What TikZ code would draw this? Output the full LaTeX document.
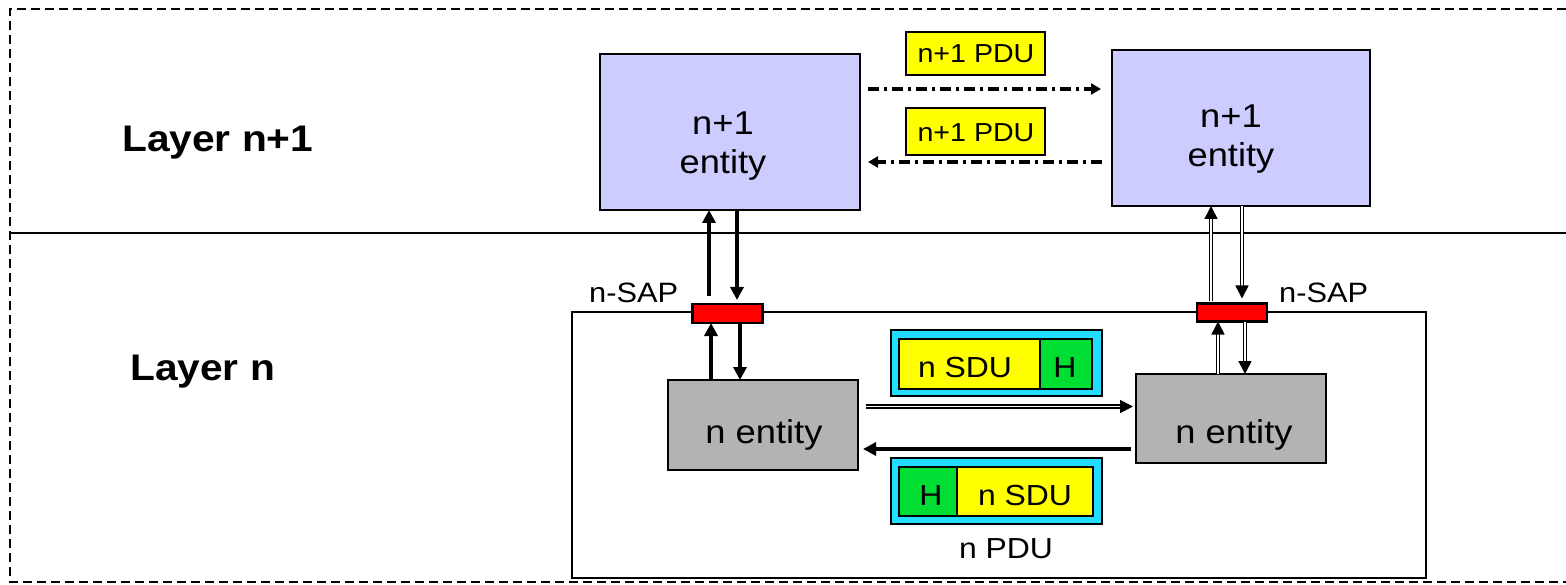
\documentclass[tikz,border=0pt]{standalone}
\usepackage{fontspec}
\setmainfont{Liberation Sans}[FakeStretch=1.1]
\usetikzlibrary{arrows.meta}

\definecolor{entblue}{HTML}{CCCCFF}
\definecolor{entgray}{HTML}{B3B3B3}
\definecolor{sapred}{HTML}{FF0000}
\definecolor{pduyellow}{HTML}{FFFF00}
\definecolor{hdrgreen}{HTML}{00DD33}
\definecolor{pducyan}{HTML}{22DDFF}

\newcommand{\fs}[1]{\fontsize{#1}{#1}\selectfont}

\tikzset{
  box/.style={draw, inner sep=0pt, outer sep=0pt},
  upperent/.style={box, line width=2.8pt, fill=entblue},
  lowerent/.style={box, line width=2.2pt, fill=entgray},
  sapbox/.style={box, line width=2.2pt, fill=sapred, minimum width=70pt, minimum height=19pt},
  tagbox/.style={box, line width=1.8pt, fill=pduyellow, minimum width=139pt},
  txt/.style={inner sep=0pt, anchor=base},
  tip/.style={-{Triangle[length=13pt,width=13pt]}},
  solidarrow/.style={tip, line width=3.6pt},
  dblarrow/.style={tip, line width=1.6pt, double, double distance=1.2pt},
  dashdot/.style={line width=3.8pt, dash pattern=on 11pt off 5pt on 3pt off 5pt,
                  -{Triangle[length=10pt,width=11pt]}},
}

\begin{document}
\begin{tikzpicture}[x=1pt, y=-1pt]
\useasboundingbox (0,0) rectangle (1566,585);

% outer dashed frame and layer separator
\draw[line width=2.2pt, dash pattern=on 9pt off 5pt] (1566,9) -- (10,9) -- (10,582) -- (1566,582);
\draw[line width=2.8pt] (10,233) -- (1566,233);

% layer labels
\node[txt, anchor=base west, font=\fs{37}\bfseries] (l1) at (122,152) {Layer n+1};
\node[txt, anchor=base west, font=\fs{37}\bfseries] (l0) at (130,380) {Layer n};

% layer n boundary
\node[box, line width=2.4pt, minimum width=854pt, minimum height=266pt] (lnbox) at (999,445) {};

% n+1 entities
\node[upperent, minimum width=260pt, minimum height=156pt] (uL) at (730,132) {};
\node[upperent, minimum width=258pt, minimum height=156pt] (uR) at (1241,128) {};
\node[txt, font=\fs{33}] (uLa) at (723,135) {n+1};
\node[txt, font=\fs{33}] (uLb) at (723,174) {entity};
\node[txt, font=\fs{33}] (uRa) at (1231,128) {n+1};
\node[txt, font=\fs{33}] (uRb) at (1231,167) {entity};

% n+1 PDU tags
\node[tagbox, minimum height=43pt] (tag1) at (975.5,53.5) {};
\node[txt, font=\fs{26}] (tag1t) at (976,63) {n+1 PDU};
\node[tagbox, minimum height=47pt] (tag2) at (975.5,131.5) {};
\node[txt, font=\fs{26}] (tag2t) at (976,142) {n+1 PDU};

% peer protocol between n+1 entities
\coordinate (ya) at (0,89);
\coordinate (yb) at (0,162);
\draw[dashdot, shorten <=8pt, shorten >=11pt] (uL.east |- ya) -- (uR.west |- ya);
\draw[dashdot, shorten <=10pt, shorten >=8pt] (uR.west |- yb) -- (uL.east |- yb);

% n entities
\node[lowerent, minimum width=190pt, minimum height=90pt] (eL) at (763,425) {};
\node[lowerent, minimum width=190pt, minimum height=89pt] (eR) at (1231,418.5) {};
\node[txt, font=\fs{33}] (eLt) at (764,443) {n entity};
\node[txt, font=\fs{33}] (eRt) at (1234,443) {n entity};

% service access points
\node[sapbox] (sapL) at (727.5,313.5) {};
\node[sapbox, minimum height=18pt] (sapR) at (1232,312.5) {};
\node[txt, anchor=base west, font=\fs{28}] (sapLt) at (589,303) {n-SAP};
\node[txt, anchor=base west, font=\fs{28}] (sapRt) at (1279,302) {n-SAP};

% vertical service primitives, left side
\coordinate (xa) at (709,0);
\coordinate (xb) at (737,0);
\coordinate (xc) at (711,0);
\coordinate (xd) at (740,0);
\draw[solidarrow, shorten <=8pt] (sapL.north -| xa) -- (uL.south -| xa);
\draw[solidarrow, shorten >=4pt] (uL.south -| xb) -- (sapL.north -| xb);
\draw[solidarrow] (eL.north -| xc) -- (sapL.south -| xc);
\draw[solidarrow] (sapL.south -| xd) -- (eL.north -| xd);

% vertical service primitives, right side
\coordinate (xe) at (1211,0);
\coordinate (xf) at (1242,0);
\coordinate (xg) at (1218,0);
\coordinate (xh) at (1245,0);
\draw[dblarrow, shorten <=2pt] (sapR.north -| xe) -- (uR.south -| xe);
\draw[dblarrow, shorten >=5pt] (uR.south -| xf) -- (sapR.north -| xf);
\draw[dblarrow] (eR.north -| xg) -- (sapR.south -| xg);
\draw[dblarrow] (sapR.south -| xh) -- (eR.north -| xh);

% n PDU exchange
\coordinate (yc) at (0,406.5);
\coordinate (yd) at (0,449);
\draw[dblarrow, shorten <=8pt, shorten >=3pt] (eL.east |- yc) -- (eR.west |- yc);
\draw[solidarrow, shorten <=5pt, shorten >=5pt] (eR.west |- yd) -- (eL.east |- yd);

% n PDU, upper: SDU followed by header
\node[box, line width=1.8pt, fill=pducyan, minimum width=211pt, minimum height=66pt] (pduA) at (996.5,363) {};
\node[box, line width=1.8pt, fill=pduyellow, minimum width=141pt, minimum height=50pt] (sduA) at (969.5,364) {};
\node[box, line width=1.8pt, fill=hdrgreen, minimum width=52pt, minimum height=50pt] (hA) at (1066,364) {};
\node[txt, font=\fs{29}] (sduAt) at (965,377) {n SDU};
\node[txt, font=\fs{29}] (hAt) at (1065,377) {H};

% n PDU, lower: header followed by SDU
\node[box, line width=1.8pt, fill=pducyan, minimum width=211pt, minimum height=66pt] (pduB) at (996.5,491) {};
\node[box, line width=1.8pt, fill=hdrgreen, minimum width=58pt, minimum height=49pt] (hB) at (928,491.5) {};
\node[box, line width=1.8pt, fill=pduyellow, minimum width=136pt, minimum height=49pt] (sduB) at (1025,491.5) {};
\node[txt, font=\fs{29}] (hBt) at (931,505) {H};
\node[txt, font=\fs{29}] (sduBt) at (1025,505) {n SDU};
\node[txt, font=\fs{29}] (pduT) at (1006,558) {n PDU};
\end{tikzpicture}
\end{document}
